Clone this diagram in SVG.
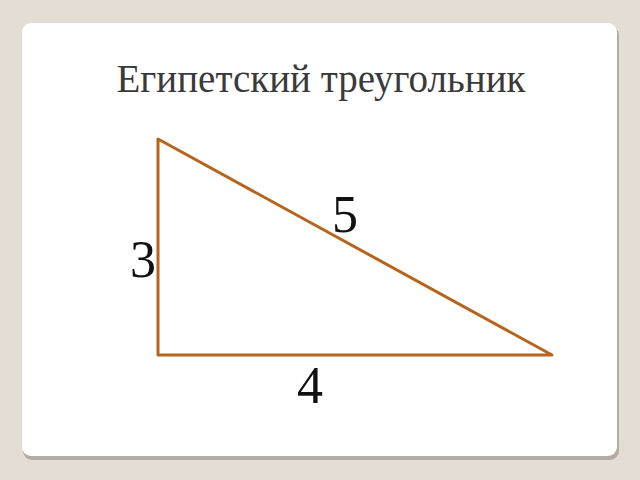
<svg xmlns="http://www.w3.org/2000/svg" width="640" height="480" viewBox="0 0 640 480">
<style>
.lbl{font-family:"Liberation Serif","Times New Roman",serif;font-size:52px;fill:#111;}
.side{stroke:#b5651d;stroke-width:3;fill:none;stroke-linecap:round;stroke-linejoin:round;}
</style>
<rect x="0" y="0" width="640" height="480" fill="#e3ddd3"/>
<rect x="23" y="26" width="596" height="434" rx="9" fill="#b2aca3"/>
<rect x="22" y="23" width="595" height="433" rx="9" fill="#ffffff"/>
<text x="321" y="92" text-anchor="middle" font-family="Liberation Serif, Times New Roman, serif" font-size="39" fill="#3a3a3a">Египетский треугольник</text>
<g id="connectors">
<path class="side" d="M158,139 L158,355 L552,355 Z"/>
</g>
<g id="label5"><text class="lbl" x="345" y="232" text-anchor="middle">5</text></g>
<g id="label3"><text class="lbl" x="143" y="277" text-anchor="middle">3</text></g>
<g id="label4"><text class="lbl" x="310" y="403" text-anchor="middle">4</text></g>
</svg>
